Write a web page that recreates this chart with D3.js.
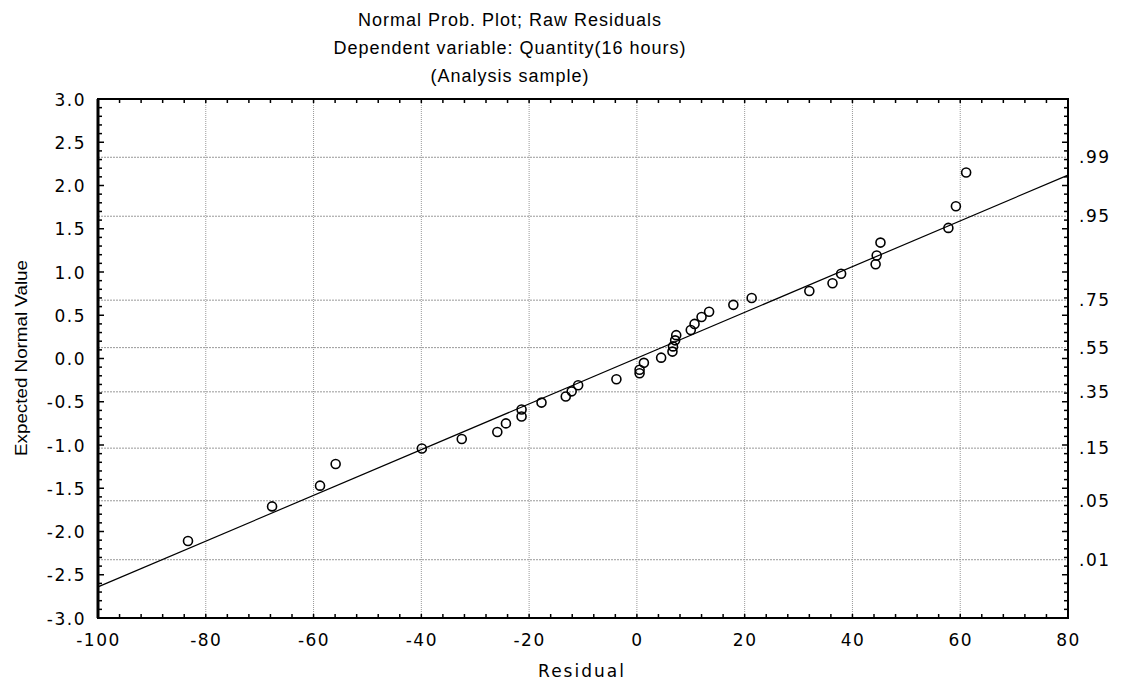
<!DOCTYPE html>
<html>
<head>
<meta charset="utf-8">
<script src="https://cdn.jsdelivr.net/npm/d3@7"></script>
<style>
  body { margin: 0; background: #fff; }
  text { font-family: "DejaVu Sans", sans-serif; fill: #000; }
  .title { font-family: "Liberation Sans", Arial, sans-serif; font-size: 18px; letter-spacing: 1px; }
  .tick text, .prob { font-size: 17px; letter-spacing: 1.5px; }
</style>
</head>
<body>
<svg id="chart" width="1122" height="682"></svg>
<script>
// residuals vs expected normal values
var residuals = [-83.3, -67.7, -58.8, -55.9, -39.9, -32.5, -25.9, -24.3, -21.4, -21.4,
    -17.7, -13.2, -12.1, -10.9, -3.8, 0.5, 0.5, 1.3, 4.5, 6.6,
    6.7, 7.1, 7.3, 10.0, 10.7, 12.0, 13.4, 17.9, 21.3, 32.0,
    36.3, 37.9, 44.3, 44.5, 45.2, 57.8, 59.2, 61.1];
var expected = [-2.11, -1.71, -1.47, -1.22, -1.04, -0.93, -0.85, -0.75, -0.67, -0.59,
    -0.51, -0.44, -0.38, -0.31, -0.24, -0.17, -0.13, -0.05, 0.01, 0.08,
    0.14, 0.21, 0.27, 0.33, 0.40, 0.48, 0.54, 0.62, 0.70, 0.78,
    0.87, 0.98, 1.09, 1.19, 1.34, 1.51, 1.76, 2.15];

// fitted line end points
var fitX = [-100, 80];
var fitY = [-2.64, 2.12];

var xTicks = [-100, -80, -60, -40, -20, 0, 20, 40, 60, 80];
var yTicks = [-3.0, -2.5, -2.0, -1.5, -1.0, -0.5, 0.0, 0.5, 1.0, 1.5, 2.0, 2.5, 3.0];
var probLabels = [".01", ".05", ".15", ".35", ".55", ".75", ".95", ".99"];
var probValues = [0.01, 0.05, 0.15, 0.35, 0.55, 0.75, 0.95, 0.99];

var titleLines = ["Normal Prob. Plot; Raw Residuals",
    "Dependent variable: Quantity(16 hours)",
    "(Analysis sample)"];

var margin = {top: 99, right: 54, bottom: 64, left: 98};
var width = 1122 - margin.left - margin.right,
    height = 682 - margin.top - margin.bottom;

var svg = d3.select("#chart");

// titles
svg.selectAll(".title")
    .data(titleLines)
    .enter().append("text")
    .attr("class", "title")
    .attr("x", 510)
    .attr("y", function(d, i) { return 26 + i * 28; })
    .attr("text-anchor", "middle")
    .text(function(d) { return d; });

var g = svg.append("g")
    .attr("transform", "translate(" + margin.left + "," + margin.top + ")");

var x = d3.scaleLinear().domain([-100, 80]).range([0, width]);
var y = d3.scaleLinear().domain([-3, 3]).range([height, 0]);

// inverse normal cdf (Acklam) to place the probability lines
function invNorm(p) {
    var a = [-39.69683028665376, 220.9460984245205, -275.9285104469687, 138.3577518672690, -30.66479806614716, 2.506628277459239];
    var b = [-54.47609879822406, 161.5858368580409, -155.6989798598866, 66.80131188771972, -13.28068155288572];
    var c = [-0.007784894002430293, -0.3223964580411365, -2.400758277161838, -2.549732539343734, 4.374664141464968, 2.938163982698783];
    var dd = [0.007784695709041462, 0.3224671290700398, 2.445134137142996, 3.754408661907416];
    var q, r;
    if (p < 0.02425) {
        q = Math.sqrt(-2 * Math.log(p));
        return (((((c[0]*q+c[1])*q+c[2])*q+c[3])*q+c[4])*q+c[5]) / ((((dd[0]*q+dd[1])*q+dd[2])*q+dd[3])*q+1);
    } else if (p > 1 - 0.02425) {
        q = Math.sqrt(-2 * Math.log(1 - p));
        return -(((((c[0]*q+c[1])*q+c[2])*q+c[3])*q+c[4])*q+c[5]) / ((((dd[0]*q+dd[1])*q+dd[2])*q+dd[3])*q+1);
    }
    q = p - 0.5; r = q * q;
    return (((((a[0]*r+a[1])*r+a[2])*r+a[3])*r+a[4])*r+a[5])*q / (((((b[0]*r+b[1])*r+b[2])*r+b[3])*r+b[4])*r+1);
}

// grid lines (dotted)
g.selectAll(".vgrid")
    .data(xTicks.slice(1, -1))
    .enter().append("line")
    .attr("class", "vgrid")
    .attr("x1", function(d) { return x(d); })
    .attr("x2", function(d) { return x(d); })
    .attr("y1", 0).attr("y2", height)
    .attr("stroke", "#999").attr("stroke-width", 1)
    .attr("stroke-dasharray", "1,1");

g.selectAll(".hgrid")
    .data(probValues)
    .enter().append("line")
    .attr("class", "hgrid")
    .attr("x1", 0).attr("x2", width)
    .attr("y1", function(d) { return y(invNorm(d)); })
    .attr("y2", function(d) { return y(invNorm(d)); })
    .attr("stroke", "#999").attr("stroke-width", 1)
    .attr("stroke-dasharray", "2,1");

// axes, labels only (ticks drawn inward below)
var xAxis = d3.axisBottom(x).tickValues(xTicks).tickSize(0).tickPadding(16);
var yAxis = d3.axisLeft(y).tickValues(yTicks).tickSize(0).tickPadding(12);

var gX = g.append("g").attr("transform", "translate(0," + height + ")").call(xAxis);
var gY = g.append("g").call(yAxis);
[gX, gY].forEach(function(a) {
    a.select(".domain").remove();
    a.selectAll("text").attr("fill", "#000");
});
gY.selectAll("text").attr("dy", "0.36em");
gX.selectAll("text").text(function(d) { return d < 0 ? "-" + Math.abs(d) : d; });
gY.selectAll("text").text(function(d) { return d < 0 ? "-" + Math.abs(d).toFixed(1) : d.toFixed(1); });

// minor ticks
var xMinor = d3.range(-100, 80.01, 4);
var yMinor = d3.range(-3, 3.001, 0.1);
g.selectAll(".xminB").data(xMinor).enter().append("line")
    .attr("x1", function(d) { return x(d); }).attr("x2", function(d) { return x(d); })
    .attr("y1", height).attr("y2", height - 4)
    .attr("stroke", "#000").attr("stroke-width", 1.5);
g.selectAll(".xminT").data(xMinor).enter().append("line")
    .attr("x1", function(d) { return x(d); }).attr("x2", function(d) { return x(d); })
    .attr("y1", 0).attr("y2", 4)
    .attr("stroke", "#000").attr("stroke-width", 1.5);
g.selectAll(".yminL").data(yMinor).enter().append("line")
    .attr("x1", 0)
    .attr("x2", function(d, i) { return i % 5 === 0 ? 6 : 4; })
    .attr("y1", function(d) { return y(d); }).attr("y2", function(d) { return y(d); })
    .attr("stroke", "#000").attr("stroke-width", 1.5);
g.selectAll(".yminR").data(yMinor).enter().append("line")
    .attr("x1", width)
    .attr("x2", function(d, i) { return width - (i % 5 === 0 ? 6 : 4); })
    .attr("y1", function(d) { return y(d); }).attr("y2", function(d) { return y(d); })
    .attr("stroke", "#000").attr("stroke-width", 1.5);

// right probability labels
g.selectAll(".prob")
    .data(probValues)
    .enter().append("text")
    .attr("class", "prob")
    .attr("x", width + 11)
    .attr("y", function(d) { return y(invNorm(d)); })
    .attr("dy", "0.36em")
    .text(function(d, i) { return probLabels[i]; });

// frame
g.append("rect")
    .attr("width", width).attr("height", height)
    .attr("fill", "none").attr("stroke", "#000").attr("stroke-width", 2);
g.append("line")
    .attr("x1", 0).attr("x2", 0).attr("y1", 0).attr("y2", height)
    .attr("stroke", "#000").attr("stroke-width", 3);

// fitted line
g.append("line")
    .attr("x1", x(fitX[0])).attr("y1", y(fitY[0]))
    .attr("x2", x(fitX[1])).attr("y2", y(fitY[1]))
    .attr("stroke", "#000").attr("stroke-width", 1.2);

// points
g.selectAll(".pt")
    .data(residuals)
    .enter().append("circle")
    .attr("class", "pt")
    .attr("cx", function(d) { return x(d); })
    .attr("cy", function(d, i) { return y(expected[i]); })
    .attr("r", 4.5)
    .attr("fill", "none")
    .attr("stroke", "#000")
    .attr("stroke-width", 1.6);

// axis titles
svg.append("text")
    .attr("x", 582).attr("y", 677)
    .attr("text-anchor", "middle")
    .style("font-size", "17px")
    .style("letter-spacing", "2px")
    .text("Residual");

svg.append("text")
    .attr("transform", "translate(27,358) rotate(-90)")
    .attr("text-anchor", "middle")
    .style("font-family", "'Liberation Sans', Arial, sans-serif")
    .style("font-size", "17px")
    .attr("textLength", 196)
    .attr("lengthAdjust", "spacingAndGlyphs")
    .text("Expected Normal Value");
</script>
</body>
</html>
